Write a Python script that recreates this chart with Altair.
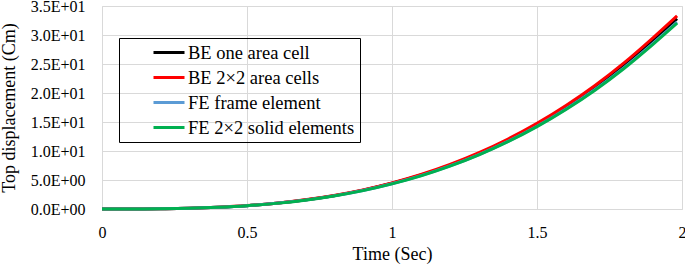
import altair as alt
import pandas as pd

# Time axis samples (s)
time_sec = [0.0, 0.1, 0.2, 0.3, 0.4, 0.5, 0.6, 0.7, 0.8, 0.9, 1.0,
            1.1, 1.2, 1.3, 1.4, 1.5, 1.6, 1.7, 1.8, 1.9, 1.983]

# Top displacement (cm)
be_one_area_cell = [0.0, 0.01, 0.04, 0.13, 0.31, 0.58, 0.99, 1.56, 2.30, 3.25, 4.43,
                    5.86, 7.56, 9.56, 11.88, 14.54, 17.57, 20.98, 24.81, 29.08, 32.8]
be_2x2_area_cells = [0.0, 0.01, 0.04, 0.13, 0.31, 0.59, 1.01, 1.58, 2.34, 3.30, 4.50,
                     5.95, 7.68, 9.71, 12.06, 14.76, 17.84, 21.30, 25.19, 29.52, 33.3]
fe_frame_element = [0.0, 0.01, 0.04, 0.13, 0.30, 0.57, 0.98, 1.53, 2.26, 3.19, 4.35,
                    5.75, 7.43, 9.39, 11.66, 14.27, 17.25, 20.60, 24.36, 28.55, 32.2]
fe_2x2_solid_elements = [0.0, 0.01, 0.04, 0.12, 0.30, 0.57, 0.97, 1.52, 2.25, 3.17, 4.33,
                         5.72, 7.39, 9.34, 11.60, 14.20, 17.16, 20.49, 24.23, 28.40, 32.05]

series_names = ["BE one area cell", "BE 2×2 area cells",
                "FE frame element", "FE 2×2 solid elements"]
series_colors = ["#000000", "#FF0000", "#5B9BD5", "#00B050"]
series_values = [be_one_area_cell, be_2x2_area_cells, fe_frame_element, fe_2x2_solid_elements]

x_ticks = [0, 0.5, 1, 1.5, 2]
y_ticks = [0, 5, 10, 15, 20, 25, 30, 35]

rows = []
for k, (name, vals) in enumerate(zip(series_names, series_values)):
    for t, v in zip(time_sec, vals):
        rows.append({"Time": t, "Disp": v, "Series": name, "k": k})
df = pd.DataFrame(rows)

FONT = "Liberation Serif"

y_label_expr = ("datum.value == 0 ? '0.0E+00' : (datum.value < 10 ? "
                "format(datum.value, '.1f') + 'E+00' : "
                "format(datum.value / 10, '.1f') + 'E+01')")

chart = alt.Chart(df).mark_line(strokeWidth=3, interpolate="monotone").encode(
    x=alt.X("Time:Q",
            scale=alt.Scale(domain=[0, 2], nice=False),
            axis=alt.Axis(values=x_ticks, format="~g", title="Time (Sec)",
                          grid=True, gridColor="#D9D9D9", gridWidth=1,
                          domain=False, ticks=False, labelFlush=False,
                          labelFont=FONT, labelFontSize=16, labelColor="black",
                          labelPadding=15,
                          titleFont=FONT, titleFontSize=18, titleFontWeight="normal",
                          titleColor="black", titleBaseline="alphabetic", titleY=50.5)),
    y=alt.Y("Disp:Q",
            scale=alt.Scale(domain=[0, 35], nice=False),
            axis=alt.Axis(values=y_ticks, labelExpr=y_label_expr,
                          title="Top displacement (Cm)",
                          grid=True, gridColor="#D9D9D9", gridWidth=1,
                          domain=False, ticks=False, labelFlush=False,
                          labelFont=FONT, labelFontSize=16, labelColor="black",
                          labelPadding=17,
                          titleFont=FONT, titleFontSize=18, titleFontWeight="normal",
                          titleColor="black", titleBaseline="alphabetic",
                          titleX=-88)),
    color=alt.Color("Series:N",
                    scale=alt.Scale(domain=series_names, range=series_colors),
                    sort=series_names,
                    legend=alt.Legend(orient="none", legendX=17, legendY=32,
                                      title=None, strokeColor="black",
                                      padding=5, symbolType="stroke",
                                      symbolSize=961, symbolStrokeWidth=3,
                                      symbolOffset=28, clipHeight=19,
                                      labelFont=FONT, labelFontSize=18.5,
                                      labelColor="black", labelOffset=2,
                                      labelLimit=400, rowPadding=6)),
    order=alt.Order("k:Q"),
).properties(
    width=580, height=203,
    autosize=alt.AutoSizeParams(type="none"),
    padding={"left": 102, "top": 6, "right": 3, "bottom": 56},
).configure_view(stroke=None).configure(
    background="white", font=FONT
).configure_legend(labelFont=FONT)

chart.save("out.html", embed_options={"renderer": "svg", "actions": False})
